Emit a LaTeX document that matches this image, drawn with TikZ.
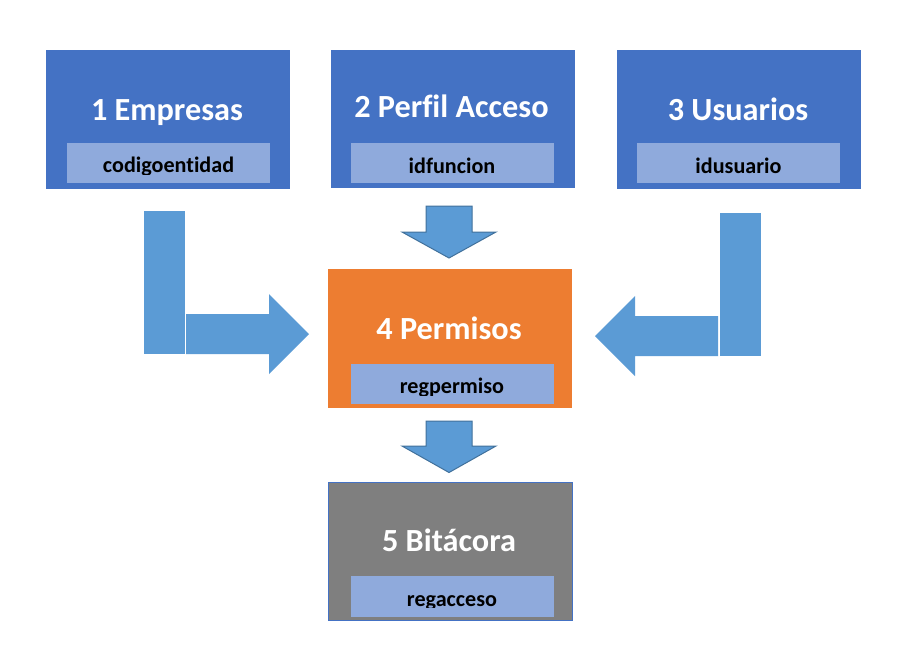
\documentclass[tikz,border=0pt]{standalone}
\usepackage{fontspec}
\setmainfont[Ligatures={NoCommon}]{Carlito}
\definecolor{boxblue}{HTML}{4472C4}
\definecolor{subblue}{HTML}{8FAADC}
\definecolor{boxorange}{HTML}{ED7D31}
\definecolor{boxgray}{HTML}{7F7F7F}
\definecolor{arrowfill}{HTML}{5B9BD5}
\definecolor{arrowline}{HTML}{41719C}
\tikzset{
  titletext/.style={text=white, font=\fontsize{24.2}{28}\selectfont\bfseries, inner sep=0pt, anchor=base},
  subtext/.style={text=black, font=\fontsize{16.6}{19}\selectfont\bfseries, inner sep=0pt, anchor=base},
  blockarrow/.style={fill=arrowfill},
  downarrow/.style={fill=arrowfill, draw=arrowline, line width=0.75pt, line join=miter}
}
\begin{document}
\begin{tikzpicture}[x=0.75pt,y=-0.75pt]
\useasboundingbox (0,0) rectangle (909,651);
% Box 1
\fill[boxblue] (46,50) rectangle (290,188.5);
\fill[subblue] (67,142.5) rectangle (270,182.5);
\node[titletext] (t1) at (167,120) {1 Empresas};
\begin{scope}\clip (67,142.5) rectangle (270,174);
\node[subtext] (s1) at (168.5,172.5) {codigoentidad};\end{scope}
% Box 2
\fill[boxblue] (331,49.5) rectangle (575,187.5);
\fill[subblue] (351,142.5) rectangle (554,182.5);
\node[titletext] (t2) at (451.5,117.7) {2 Perfil Acceso};
\begin{scope}\clip (351,142.5) rectangle (554,174.5);
\node[subtext] (s2) at (452,173) {idfuncion};\end{scope}
% Box 3
\fill[boxblue] (617,50) rectangle (860.5,188.5);
\fill[subblue] (637,142.5) rectangle (840,182.5);
\node[titletext] (t3) at (738,120) {3 Usuarios};
\begin{scope}\clip (637,142.5) rectangle (840,174.5);
\node[subtext] (s3) at (738.5,173) {idusuario};\end{scope}
% Box 4
\fill[boxorange] (328,269) rectangle (572,407.5);
\fill[subblue] (351,363.5) rectangle (554,403.5);
\node[titletext] (t4) at (449,339) {4 Permisos};
\begin{scope}\clip (351,363.5) rectangle (554,395);
\node[subtext] (s4) at (452,393.5) {regpermiso};\end{scope}
% Box 5
\fill[boxgray, draw=boxblue, line width=0.75pt] (328,482) rectangle (572,620.5);
\fill[subblue] (351,576) rectangle (554,616.5);
\node[titletext] (t5) at (449,551) {5 Bitácora};
\begin{scope}\clip (351,576) rectangle (554,607.5);
\node[subtext] (s5) at (452,606) {regacceso};\end{scope}
% Down arrows
\draw[downarrow] (426,206) -- (472,206) -- (472,232) -- (496,232) -- (449,258) -- (402,232) -- (426,232) -- cycle;
\draw[downarrow] (426,421) -- (472,421) -- (472,446) -- (496,446) -- (449,472.5) -- (402,446) -- (426,446) -- cycle;
% Left L arrow
\fill[blockarrow] (144,211) rectangle (185,354);
\fill[blockarrow] (186,314) -- (269,314) -- (269,294) -- (309,334) -- (269,374) -- (269,354) -- (186,354) -- cycle;
% Right L arrow
\fill[blockarrow] (720,213) rectangle (761,356);
\fill[blockarrow] (718,316) -- (635,316) -- (635,296) -- (595,336) -- (635,376) -- (635,356) -- (718,356) -- cycle;
\end{tikzpicture}
\end{document}
